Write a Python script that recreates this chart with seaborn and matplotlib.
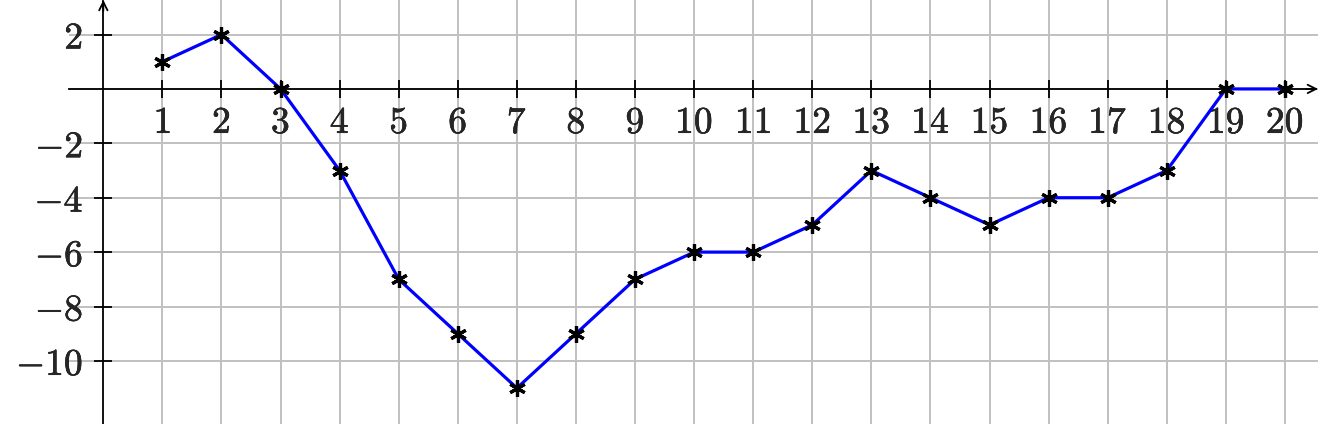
import numpy as np
import pandas as pd
import matplotlib
matplotlib.use("Agg")
import matplotlib.pyplot as plt
import matplotlib.patheffects as pe
import seaborn as sns

# Data
x_vals = list(range(1, 21))
y_vals = [1, 2, 0, -3, -7, -9, -11, -9, -7, -6, -6, -5, -3, -4, -5, -4, -4, -3, 0, 0]
x_ticks = list(range(1, 21))
y_ticks = [-10, -8, -6, -4, -2, 2]

df = pd.DataFrame({"x": x_vals, "y": y_vals})

sns.set_style("white")
plt.rcParams["mathtext.fontset"] = "cm"
plt.rcParams["font.family"] = ["DejaVu Sans"]

# limits matching the pixel layout of the reference
x_lo, x_hi = -1.749, 20.594
y_lo, y_hi = -12.32, 3.27
axis_x0, axis_x1 = -0.58, 20.56
grid_col = "#c0c0c0"

fig = plt.figure(figsize=(13.2, 4.24), dpi=100)
ax = fig.add_axes([0, 0, 1, 1])
ax.set_xlim(x_lo, x_hi)
ax.set_ylim(y_lo, y_hi)

# grid
ax.vlines(x_ticks, y_lo, y_hi, color=grid_col, lw=1.4, zorder=0)
ax.hlines(y_ticks + [0], axis_x0, axis_x1, color=grid_col, lw=1.4, zorder=0)

# axis lines through the origin
for s in ["top", "right"]:
    ax.spines[s].set_visible(False)
ax.spines["left"].set_position(("data", 0))
ax.spines["bottom"].set_position(("data", 0))
ax.spines["left"].set_bounds(y_lo, y_hi - 0.05)
ax.spines["bottom"].set_bounds(axis_x0, axis_x1 - 0.03)
for s in ["left", "bottom"]:
    ax.spines[s].set_linewidth(1.3)
    ax.spines[s].set_color("black")
    ax.spines[s].set_zorder(2)

ax.annotate("", xy=(axis_x1, 0), xytext=(axis_x1 - 0.2, 0),
            arrowprops=dict(arrowstyle="->", lw=1.3, color="black",
                            mutation_scale=15, shrinkA=0, shrinkB=0))
ax.annotate("", xy=(0, y_hi), xytext=(0, y_hi - 0.4),
            arrowprops=dict(arrowstyle="->", lw=1.3, color="black",
                            mutation_scale=15, shrinkA=0, shrinkB=0))

ax.set_xticks(x_ticks)
ax.set_xticklabels([f"${v}$" for v in x_ticks])
ax.set_yticks(y_ticks)
ax.set_yticklabels([f"${v}$" for v in y_ticks])
ax.tick_params(axis="both", direction="inout", length=13, width=1.3,
               color="black", labelsize=27, bottom=True, left=True)
ax.tick_params(axis="x", pad=5)
ax.tick_params(axis="y", pad=8)
for lab in ax.get_xticklabels() + ax.get_yticklabels():
    lab.set_path_effects([pe.withStroke(linewidth=0.4, foreground="black")])

sns.lineplot(data=df, x="x", y="y", ax=ax, color="#0000ff", lw=2.3,
             marker=(6, 2, 0), markersize=12, markeredgecolor="black",
             markeredgewidth=2.3, zorder=3)
ax.set_xlabel("")
ax.set_ylabel("")

fig.savefig("out.png", dpi=100)
